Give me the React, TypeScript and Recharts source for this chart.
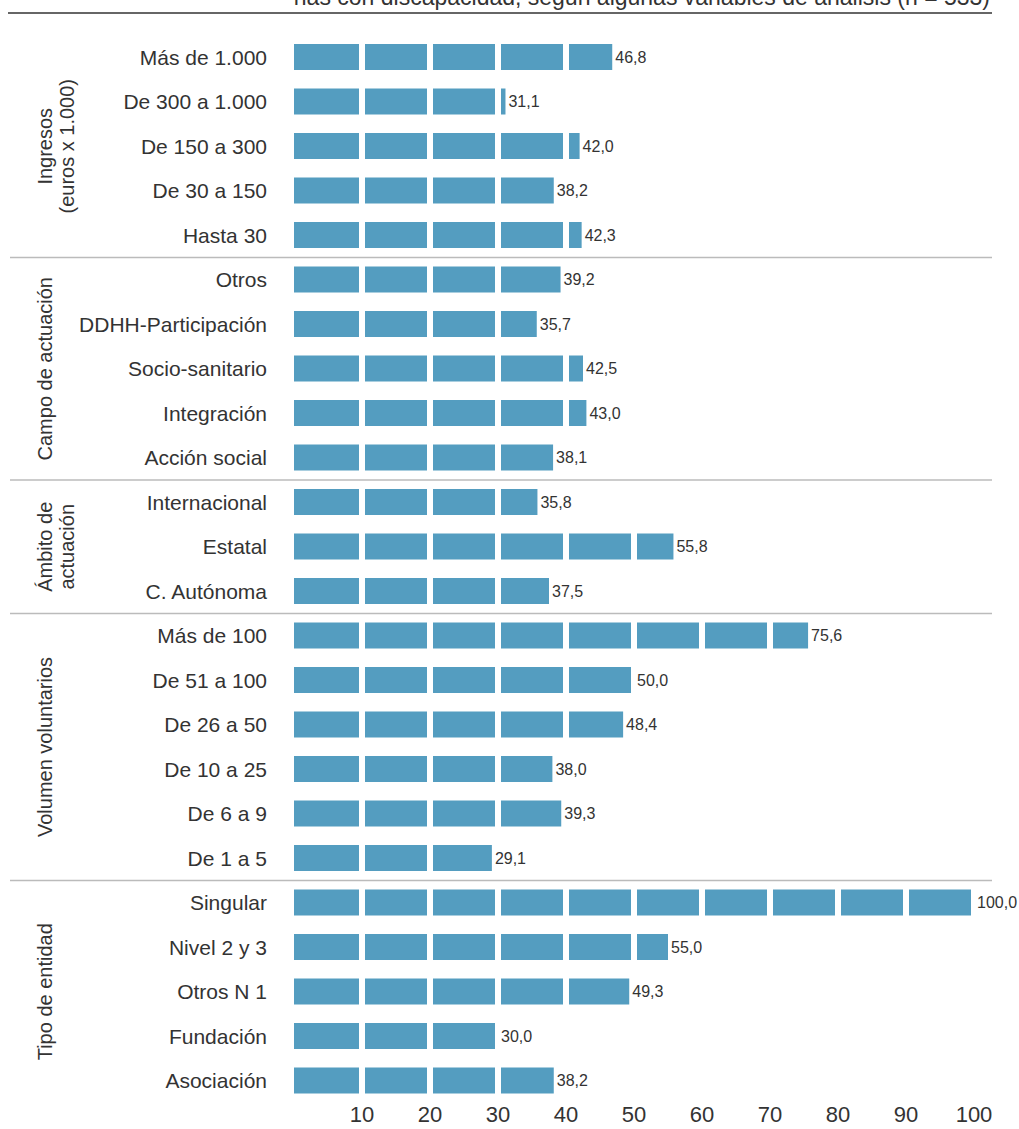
import React from 'react';
import { BarChart, Bar, XAxis, YAxis, LabelList } from 'recharts';

// Categories per group, top to bottom
const ingresosCats = ['Más de 1.000', 'De 300 a 1.000', 'De 150 a 300', 'De 30 a 150', 'Hasta 30'];
const ingresosVals = [46.8, 31.1, 42.0, 38.2, 42.3];

const campoCats = ['Otros', 'DDHH-Participación', 'Socio-sanitario', 'Integración', 'Acción social'];
const campoVals = [39.2, 35.7, 42.5, 43.0, 38.1];

const ambitoCats = ['Internacional', 'Estatal', 'C. Autónoma'];
const ambitoVals = [35.8, 55.8, 37.5];

const volumenCats = ['Más de 100', 'De 51 a 100', 'De 26 a 50', 'De 10 a 25', 'De 6 a 9', 'De 1 a 5'];
const volumenVals = [75.6, 50.0, 48.4, 38.0, 39.3, 29.1];

const tipoCats = ['Singular', 'Nivel 2 y 3', 'Otros N 1', 'Fundación', 'Asociación'];
const tipoVals = [100.0, 55.0, 49.3, 30.0, 38.2];

const groupLabels = [
  ['Ingresos', '(euros x 1.000)'],
  ['Campo de actuación'],
  ['Ámbito de', 'actuación'],
  ['Volumen voluntarios'],
  ['Tipo de entidad'],
];

const xTicks = [10, 20, 30, 40, 50, 60, 70, 80, 90, 100];

const title = 'nas con discapacidad, según algunas variables de análisis (n = 533)';

const groups = [
  { cats: ingresosCats, vals: ingresosVals },
  { cats: campoCats, vals: campoVals },
  { cats: ambitoCats, vals: ambitoVals },
  { cats: volumenCats, vals: volumenVals },
  { cats: tipoCats, vals: tipoVals },
];

const data = groups.flatMap((g) => g.cats.map((c, i) => ({ name: c, value: g.vals[i] })));

const W = 1019;
const H = 1129;
const TOP = 35;
const XAXIS_H = 26;
const LEFT = 294;
const RIGHT = 45;
const BAND = (H - TOP - XAXIS_H) / data.length;

const FONT = '"Liberation Sans", Arial, sans-serif';
const TEXT = '#333';
const BLUE = '#549dc0';

const fmt = (v: any) => Number(v).toFixed(1).replace('.', ',');

// bar split in blocks of 10 units with white gaps
const SegmentedBar = (props: any) => {
  const { x, y, width, height, value } = props;
  const v = Array.isArray(value) ? value[1] - value[0] : value;
  if (!v || width <= 0) return null;
  const step = (width / v) * 10;
  const end = x + width;
  const rects = [];
  for (let k = 0; x + k * step < end - 0.5; k++) {
    const s = x + k * step + (k > 0 ? 3 : 0);
    const b = x + (k + 1) * step;
    const e = b <= end + 0.5 ? b - 3 : end;
    if (e > s) rects.push(<rect key={k} x={s} y={y} width={e - s} height={height} fill={BLUE} />);
  }
  return <g>{rects}</g>;
};

export default function App() {
  let acc = 0;
  const bounds = groups.map((g) => {
    const start = acc;
    acc += g.cats.length;
    return { start, count: g.cats.length };
  });

  return (
    <div style={{ position: 'absolute', left: 0, top: 0, width: W, height: H, background: '#fff', fontFamily: FONT }}>
      <BarChart
        width={W}
        height={H}
        data={data}
        layout="vertical"
        margin={{ top: TOP, right: RIGHT, bottom: 0, left: 0 }}
        barCategoryGap={0}
      >
        <XAxis
          type="number"
          domain={[0, 100]}
          ticks={xTicks}
          axisLine={false}
          tickLine={false}
          tickSize={0}
          tickMargin={3}
          height={XAXIS_H}
          tick={{ fontSize: 22, fill: TEXT, fontFamily: FONT }}
        />
        <YAxis
          type="category"
          dataKey="name"
          width={LEFT}
          axisLine={false}
          tickLine={false}
          tickSize={0}
          tickMargin={27}
          interval={0}
          tick={{ fontSize: 21, fill: TEXT, fontFamily: FONT }}
        />
        <Bar dataKey="value" barSize={26} shape={<SegmentedBar />} isAnimationActive={false}>
          <LabelList
            dataKey="value"
            position="right"
            offset={3}
            formatter={fmt}
            style={{ fontSize: 16, fill: TEXT, fontFamily: FONT }}
          />
        </Bar>
      </BarChart>
      <svg
        width={W}
        height={H}
        style={{ position: 'absolute', left: 0, top: 0, pointerEvents: 'none' }}
      >
        <text x={990} y={5} textAnchor="end" fontSize={23} fill={TEXT} fontFamily={FONT}>
          {title}
        </text>
        <line x1={8} x2={992} y1={13} y2={13} stroke="#666" strokeWidth={2} />
        {bounds.slice(0, -1).map((b, i) => {
          const yy = TOP + (b.start + b.count) * BAND;
          return <line key={i} x1={10} x2={992} y1={yy} y2={yy} stroke="#bbb" strokeWidth={1.5} />;
        })}
        {bounds.map((b, i) => {
          const cy = TOP + (b.start + b.count / 2) * BAND;
          const lines = groupLabels[i];
          return lines.map((t, j) => {
            const cx = (lines.length === 1 ? 45 : 45 + j * 22);
            return (
              <text
                key={`${i}-${j}`}
                x={cx}
                y={cy}
                transform={`rotate(-90, ${cx}, ${cy})`}
                textAnchor="middle"
                dominantBaseline="central"
                fontSize={20}
                fill={TEXT}
                fontFamily={FONT}
              >
                {t}
              </text>
            );
          });
        })}
      </svg>
    </div>
  );
}
